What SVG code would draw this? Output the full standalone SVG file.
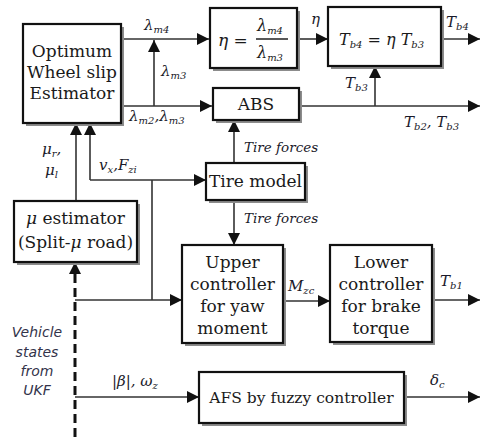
<svg xmlns="http://www.w3.org/2000/svg" width="481" height="437" viewBox="0 0 481 437">
<style>
.box{fill:#fff;stroke:#111;stroke-width:2.2}
.shd{fill:#8c8c8c}
.ln{fill:none;stroke:#333;stroke-width:1.6}
.dash{fill:none;stroke:#111;stroke-width:3;stroke-dasharray:9,5}
</style>
<defs>
<marker id="a" markerUnits="userSpaceOnUse" markerWidth="13" markerHeight="12" refX="12" refY="6" orient="auto" viewBox="0 0 13 12">
<path d="M0,0 L12,6 L0,12 z" fill="#111"/>
</marker>
</defs>

<g id="connectors">
<path class="ln" d="M121,39 H209" marker-end="url(#a)"/>
<path class="ln" d="M154,106 V40" marker-end="url(#a)"/>
<path class="ln" d="M121,106 H212" marker-end="url(#a)"/>
<path class="ln" d="M297,39 H328" marker-end="url(#a)"/>
<path class="ln" d="M441,39 H480" marker-end="url(#a)"/>
<path class="ln" d="M299,106 H480" marker-end="url(#a)"/>
<path class="ln" d="M375,106 V66" marker-end="url(#a)"/>
<path class="ln" d="M234,163 V120" marker-end="url(#a)"/>
<path class="ln" d="M234,200 V245" marker-end="url(#a)"/>
<path class="ln" d="M152,300 V180" />
<path class="ln" d="M90,180 H206" marker-end="url(#a)"/>
<path class="ln" d="M90,180 V123" marker-end="url(#a)"/>
<path class="ln" d="M75,300 H182" marker-end="url(#a)"/>
<path class="ln" d="M283,301 H330" marker-end="url(#a)"/>
<path class="ln" d="M432,300 H480" marker-end="url(#a)"/>
<path class="ln" d="M76,201 V123" marker-end="url(#a)"/>
<path class="dash" d="M75,437 V270"/>
<path d="M69,274 L75,262 L81,274 z" fill="#111"/>
<path class="ln" d="M75,397 H199" marker-end="url(#a)"/>
<path class="ln" d="M404,397 H480" marker-end="url(#a)"/>
</g>

<g id="labels" font-family="DejaVu Serif" font-style="italic" font-size="15" fill="#1a1a2a">
<text x="144" y="30">λ<tspan font-size="10" dy="3">m4</tspan></text>
<text x="161" y="76">λ<tspan font-size="10" dy="3">m3</tspan></text>
<text x="129" y="121">λ<tspan font-size="10" dy="3">m2</tspan><tspan dy="-3">,λ</tspan><tspan font-size="10" dy="3">m3</tspan></text>
<text x="311" y="24">η</text>
<text x="446" y="27">T<tspan font-size="10" dy="3">b4</tspan></text>
<text x="345" y="88">T<tspan font-size="10" dy="3">b3</tspan></text>
<text x="404" y="127">T<tspan font-size="10" dy="3">b2</tspan><tspan dy="-3">, T</tspan><tspan font-size="10" dy="3">b3</tspan></text>
<text x="244" y="152" font-size="13.5">Tire forces</text>
<text x="244" y="223" font-size="13.5">Tire forces</text>
<text x="99" y="170">v<tspan font-size="10" dy="3">x</tspan><tspan dy="-3">,F</tspan><tspan font-size="10" dy="3">zi</tspan></text>
<text x="42" y="154">μ<tspan font-size="10" dy="3">r</tspan><tspan dy="-3">,</tspan></text>
<text x="45" y="175">μ<tspan font-size="10" dy="3">l</tspan></text>
<text x="288" y="291">M<tspan font-size="10" dy="3">zc</tspan></text>
<text x="440" y="286">T<tspan font-size="10" dy="3">b1</tspan></text>
<text x="112" y="386">|β|, ω<tspan font-size="10" dy="3">z</tspan></text>
<text x="430" y="385">δ<tspan font-size="10" dy="3">c</tspan></text>
</g>

<g id="optimum" font-family="DejaVu Serif" font-size="17" text-anchor="middle" fill="#1a1a1a">
<rect class="shd" x="26" y="27" width="98" height="99"/>
<rect class="box" x="23" y="24" width="98" height="99"/>
<text x="72" y="57">Optimum</text>
<text x="72" y="78">Wheel slip</text>
<text x="72" y="99">Estimator</text>
</g>

<g id="eta" font-family="DejaVu Serif" font-style="italic" fill="#1a1a1a">
<rect class="shd" x="213" y="11" width="87" height="60"/>
<rect class="box" x="210" y="8" width="87" height="60"/>
<text x="218" y="46" font-size="17">η =</text>
<text x="257" y="31" font-size="16">λ<tspan font-size="10" dy="3">m4</tspan></text>
<line x1="256" y1="39" x2="288" y2="39" stroke="#111" stroke-width="1.4"/>
<text x="257" y="58" font-size="16">λ<tspan font-size="10" dy="3">m3</tspan></text>
</g>

<g id="tb4" font-family="DejaVu Serif" font-style="italic" fill="#1a1a1a">
<rect class="shd" x="331" y="10" width="113" height="59"/>
<rect class="box" x="328" y="7" width="113" height="59"/>
<text x="339" y="45" font-size="16">T<tspan font-size="10" dy="3">b4</tspan><tspan dy="-3"> = η T</tspan><tspan font-size="10" dy="3">b3</tspan></text>
</g>

<g id="abs" font-family="DejaVu Serif" font-size="17" text-anchor="middle" fill="#1a1a1a">
<rect class="shd" x="216" y="91" width="86" height="32"/>
<rect class="box" x="213" y="88" width="86" height="32"/>
<text x="256" y="110">ABS</text>
</g>

<g id="tire" font-family="DejaVu Serif" font-size="17" text-anchor="middle" fill="#1a1a1a">
<rect class="shd" x="209" y="166" width="99" height="37"/>
<rect class="box" x="206" y="163" width="99" height="37"/>
<text x="255.5" y="187">Tire model</text>
</g>

<g id="mu" font-family="DejaVu Serif" font-size="17" text-anchor="middle" fill="#1a1a1a">
<rect class="shd" x="17" y="204" width="123" height="61"/>
<rect class="box" x="14" y="201" width="123" height="61"/>
<text x="75.5" y="224"><tspan font-style="italic">μ</tspan> estimator</text>
<text x="75.5" y="248">(Split-<tspan font-style="italic">μ</tspan> road)</text>
</g>

<g id="upper" font-family="DejaVu Serif" font-size="17" text-anchor="middle" fill="#1a1a1a">
<rect class="shd" x="185" y="248" width="101" height="98"/>
<rect class="box" x="182" y="245" width="101" height="98"/>
<text x="232.5" y="268">Upper</text>
<text x="232.5" y="290">controller</text>
<text x="232.5" y="312">for yaw</text>
<text x="232.5" y="334">moment</text>
</g>

<g id="lower" font-family="DejaVu Serif" font-size="17" text-anchor="middle" fill="#1a1a1a">
<rect class="shd" x="333" y="248" width="102" height="97"/>
<rect class="box" x="330" y="245" width="102" height="97"/>
<text x="381" y="268">Lower</text>
<text x="381" y="290">controller</text>
<text x="381" y="312">for brake</text>
<text x="381" y="334">torque</text>
</g>

<g id="afs" font-family="DejaVu Serif" font-size="15.5" text-anchor="middle" fill="#1a1a1a">
<rect class="shd" x="202" y="375" width="205" height="51"/>
<rect class="box" x="199" y="372" width="205" height="51"/>
<text x="301.5" y="403">AFS by fuzzy controller</text>
</g>

<g id="vehicle" font-family="DejaVu Sans" font-style="italic" font-size="14" text-anchor="middle" fill="#33334a">
<text x="37" y="337">Vehicle</text>
<text x="37" y="357">states</text>
<text x="37" y="376">from</text>
<text x="37" y="395">UKF</text>
</g>
</svg>
